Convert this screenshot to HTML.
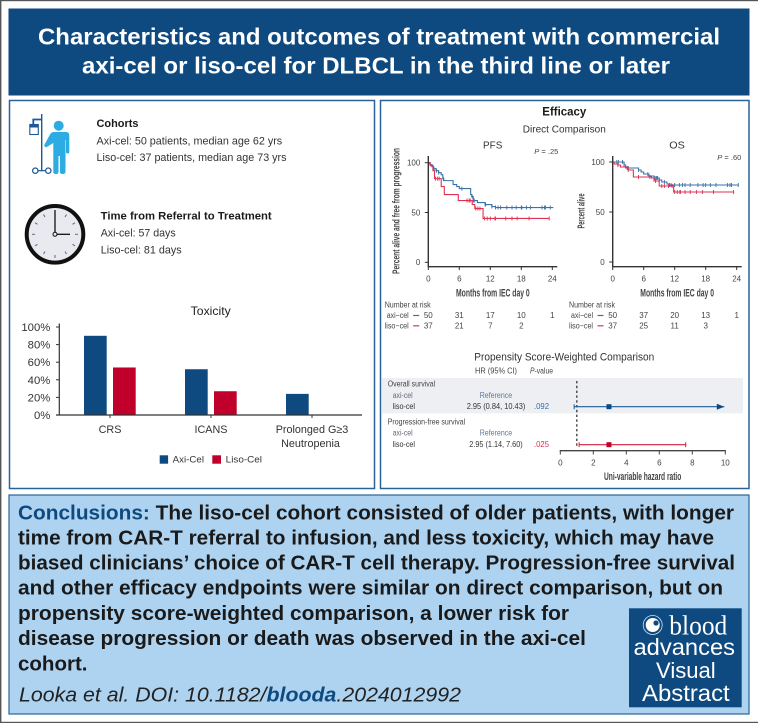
<!DOCTYPE html>
<html lang="en">
<head>
<meta charset="utf-8">
<title>Visual abstract: axi-cel or liso-cel for DLBCL</title>
<style>
html,body{margin:0;padding:0;background:#fff;}
svg{display:block;font-family:"Liberation Sans",sans-serif;filter:blur(0.3px);}
</style>
</head>
<body>
<svg id="root" width="758" height="723" viewBox="0 0 758 723" xmlns="http://www.w3.org/2000/svg">
  <rect x="0" y="0" width="758" height="723" fill="#fff"/>
  <rect x="0" y="0" width="758" height="1.2" fill="#555"/>
  <rect x="0" y="0" width="1.4" height="723" fill="#555"/>
  <rect x="0" y="721.8" width="758" height="1.2" fill="#555"/>

  <g>
    <rect x="8.5" y="8.5" width="741" height="87" fill="#0e4a80"/>
    <text x="38" y="44.3" font-size="23" font-weight="700" fill="#fff" textLength="682" lengthAdjust="spacingAndGlyphs">Characteristics and outcomes of treatment with commercial</text>
    <text x="82" y="73.7" font-size="23" font-weight="700" fill="#fff" textLength="588" lengthAdjust="spacingAndGlyphs">axi-cel or liso-cel for DLBCL in the third line or later</text>
  </g>

  <rect x="9.5" y="100.5" width="365" height="388" fill="#fff" stroke="#2a6399" stroke-width="1.5"/>
  <rect x="380.5" y="100.5" width="368.5" height="388" fill="#fff" stroke="#2a6399" stroke-width="1.5"/>

  <g>
    <line x1="41.7" y1="114" x2="41.7" y2="170.7" stroke="#1a5a96" stroke-width="1.4"/>
    <path d="M33.3 124 V119.500 H41.7" fill="none" stroke="#1a5a96" stroke-width="1.8"/>
    <rect x="29.800" y="124.500" width="8.500" height="10" fill="#fff" stroke="#1a5a96" stroke-width="1.1"/>
    <rect x="29.800" y="124.500" width="8.500" height="3" fill="#1a5a96"/>
    <circle cx="35.300" cy="170.700" r="2.700" fill="#fff" stroke="#1a5a96" stroke-width="1.200"/>
    <circle cx="48.300" cy="170.700" r="2.700" fill="#fff" stroke="#1a5a96" stroke-width="1.200"/>
    <line x1="38" y1="170.700" x2="45.600" y2="170.700" stroke="#1a5a96" stroke-width="1.200"/>
    <circle cx="58.700" cy="125.700" r="5" fill="#2dabe3"/>
    <path d="M44 145.500 L50 134.500 Q51.500 132 54 132 H66 Q69.300 132 69.300 135.500 V152 Q69.300 153.500 67.700 153.500 Q66 153.500 66 152 V140 H65.500 V172 Q65.500 174 62.500 174 Q60 174 60 172 V156 H58.500 V172 Q58.500 174 56 174 Q53.300 174 53.300 172 V143 L46 147.500 Z" fill="#2dabe3"/>
  </g>

  <text x="96.500" y="127" font-size="11" font-weight="700" fill="#1a1a1a" textLength="42" lengthAdjust="spacingAndGlyphs">Cohorts</text>
  <text x="96.500" y="144.300" font-size="11" fill="#333" textLength="185.700" lengthAdjust="spacingAndGlyphs">Axi-cel: 50 patients, median age 62 yrs</text>
  <text x="96.500" y="161" font-size="11" fill="#333" textLength="190" lengthAdjust="spacingAndGlyphs">Liso-cel: 37 patients, median age 73 yrs</text>

  <g>
    <circle cx="55" cy="234.300" r="28.300" fill="#e8eaf0" stroke="#111" stroke-width="4"/>
    <g stroke="#667" stroke-width="1">
      <line x1="55" y1="211" x2="55" y2="214"/><line x1="55" y1="255" x2="55" y2="258"/>
      <line x1="32" y1="234.300" x2="35" y2="234.300"/><line x1="75" y1="234.300" x2="78" y2="234.300"/>
      <line x1="66.500" y1="214.500" x2="65" y2="217"/><line x1="43.500" y1="214.500" x2="45" y2="217"/>
      <line x1="66.500" y1="254" x2="65" y2="251.500"/><line x1="43.500" y1="254" x2="45" y2="251.500"/>
      <line x1="35" y1="222.800" x2="37.500" y2="224.300"/><line x1="75" y1="222.800" x2="72.500" y2="224.300"/>
      <line x1="35" y1="245.800" x2="37.500" y2="244.300"/><line x1="75" y1="245.800" x2="72.500" y2="244.300"/>
    </g>
    <line x1="55" y1="232" x2="55" y2="210" stroke="#111" stroke-width="1.300"/>
    <line x1="57" y1="234.300" x2="70" y2="234.300" stroke="#111" stroke-width="1.300"/>
    <circle cx="55" cy="234.300" r="2" fill="#e8eaf0" stroke="#111" stroke-width="1"/>
  </g>

  <text x="100.700" y="219.700" font-size="11" font-weight="700" fill="#1a1a1a" textLength="171" lengthAdjust="spacingAndGlyphs">Time from Referral to Treatment</text>
  <text x="100.700" y="236.300" font-size="11" fill="#333" textLength="75" lengthAdjust="spacingAndGlyphs">Axi-cel: 57 days</text>
  <text x="100.700" y="253.300" font-size="11" fill="#333" textLength="81" lengthAdjust="spacingAndGlyphs">Liso-cel: 81 days</text>

  <g id="toxicity-chart">
    <text x="210.700" y="315" font-size="12" fill="#222" text-anchor="middle" textLength="40" lengthAdjust="spacingAndGlyphs">Toxicity</text>
    <rect x="159.700" y="455.300" width="8.400" height="8.400" fill="#0e4a80"/>
    <text x="172.700" y="462.700" font-size="9.500" fill="#333" textLength="31.300" lengthAdjust="spacingAndGlyphs">Axi-Cel</text>
    <rect x="212.300" y="455.300" width="8.700" height="8.400" fill="#c0002a"/>
    <text x="225.700" y="462.700" font-size="9.500" fill="#333" textLength="36.300" lengthAdjust="spacingAndGlyphs">Liso-Cel</text>
  </g>

  <text x="564.300" y="115.700" font-size="11.500" font-weight="700" fill="#1a1a1a" text-anchor="middle" textLength="44" lengthAdjust="spacingAndGlyphs">Efficacy</text>
  <text x="564.300" y="132.700" font-size="10.500" fill="#333" text-anchor="middle" textLength="83" lengthAdjust="spacingAndGlyphs">Direct Comparison</text>

  <g id="pfs-chart">
    <text x="492.700" y="148.700" font-size="10.500" fill="#333" text-anchor="middle" textLength="19.300" lengthAdjust="spacingAndGlyphs">PFS</text>
    <text x="534.300" y="154" font-size="7.500" fill="#444" textLength="24" lengthAdjust="spacingAndGlyphs"><tspan font-style="italic">P</tspan> = .25</text>
    <text transform="translate(399.500 211) rotate(-90)" font-size="10" font-weight="700" fill="#444" text-anchor="middle" textLength="126" lengthAdjust="spacingAndGlyphs">Percent alive and free from progression</text>
    <text x="456" y="296.300" font-size="11" font-weight="700" fill="#444" textLength="73.700" lengthAdjust="spacingAndGlyphs">Months from IEC day 0</text>
    <text x="384.700" y="307.700" font-size="8" fill="#444" textLength="46" lengthAdjust="spacingAndGlyphs">Number at risk</text>
  </g>

  <g id="os-chart">
    <text x="677" y="148.700" font-size="10.500" fill="#333" text-anchor="middle" textLength="15.500" lengthAdjust="spacingAndGlyphs">OS</text>
    <text x="717.300" y="160" font-size="7.500" fill="#444" textLength="24" lengthAdjust="spacingAndGlyphs"><tspan font-style="italic">P</tspan> = .60</text>
    <text transform="translate(584.500 211) rotate(-90)" font-size="10" font-weight="700" fill="#444" text-anchor="middle" textLength="35" lengthAdjust="spacingAndGlyphs">Percent alive</text>
    <text x="640.300" y="296.300" font-size="11" font-weight="700" fill="#444" textLength="73.700" lengthAdjust="spacingAndGlyphs">Months from IEC day 0</text>
    <text x="569" y="307.700" font-size="8" fill="#444" textLength="46" lengthAdjust="spacingAndGlyphs">Number at risk</text>
  </g>

  <g id="forest-chart">
    <text x="564.300" y="360.700" font-size="11" fill="#333" text-anchor="middle" textLength="180" lengthAdjust="spacingAndGlyphs">Propensity Score-Weighted Comparison</text>
    <text x="475" y="373.700" font-size="8" fill="#444" textLength="42" lengthAdjust="spacingAndGlyphs">HR (95% CI)</text>
    <text x="530" y="373.700" font-size="8" fill="#444" textLength="23" lengthAdjust="spacingAndGlyphs"><tspan font-style="italic">P</tspan>-value</text>
    <rect x="382" y="378" width="361" height="35.300" fill="#eeeff2"/>
    <text x="387.700" y="386.700" font-size="8" fill="#444" textLength="47.500" lengthAdjust="spacingAndGlyphs">Overall survival</text>
    <text x="392.700" y="398" font-size="8" fill="#667" textLength="20" lengthAdjust="spacingAndGlyphs">axi-cel</text>
    <text x="479.700" y="398" font-size="8" fill="#5a7a9a" textLength="32.500" lengthAdjust="spacingAndGlyphs">Reference</text>
    <text x="392.700" y="409" font-size="8" fill="#333" textLength="22.300" lengthAdjust="spacingAndGlyphs">liso-cel</text>
    <text x="466.700" y="409" font-size="8" fill="#333" textLength="58.600" lengthAdjust="spacingAndGlyphs">2.95 (0.84, 10.43)</text>
    <text x="534" y="409" font-size="8" fill="#2a6fb0" textLength="15" lengthAdjust="spacingAndGlyphs">.092</text>
    <text x="387.700" y="424.300" font-size="8" fill="#444" textLength="77.500" lengthAdjust="spacingAndGlyphs">Progression-free survival</text>
    <text x="392.700" y="435.700" font-size="8" fill="#667" textLength="20" lengthAdjust="spacingAndGlyphs">axi-cel</text>
    <text x="479.700" y="435.700" font-size="8" fill="#5a7a9a" textLength="32.500" lengthAdjust="spacingAndGlyphs">Reference</text>
    <text x="392.700" y="447" font-size="8" fill="#333" textLength="22.300" lengthAdjust="spacingAndGlyphs">liso-cel</text>
    <text x="469.300" y="447" font-size="8" fill="#333" textLength="53.400" lengthAdjust="spacingAndGlyphs">2.95 (1.14, 7.60)</text>
    <text x="534" y="447" font-size="8" fill="#d8304f" textLength="15" lengthAdjust="spacingAndGlyphs">.025</text>
    <text x="604" y="480" font-size="11" font-weight="700" fill="#444" textLength="77.300" lengthAdjust="spacingAndGlyphs">Uni-variable hazard ratio</text>
  </g>

  <g>
    <rect x="9" y="495" width="740" height="219" fill="#aed3f1" stroke="#2a6399" stroke-width="1.200"/>
    <g font-size="20.500" font-weight="700" fill="#1a1a1a">
      <text x="18" y="519.300" textLength="716" lengthAdjust="spacingAndGlyphs"><tspan fill="#0e4a80">Conclusions:</tspan> The liso-cel cohort consisted of older patients, with longer</text>
      <text x="18" y="544.700" textLength="696" lengthAdjust="spacingAndGlyphs">time from CAR-T referral to infusion, and less toxicity, which may have</text>
      <text x="18" y="569.300" textLength="717" lengthAdjust="spacingAndGlyphs">biased clinicians’ choice of CAR-T cell therapy. Progression-free survival</text>
      <text x="18" y="594.700" textLength="705" lengthAdjust="spacingAndGlyphs">and other efficacy endpoints were similar on direct comparison, but on</text>
      <text x="18" y="620" textLength="551" lengthAdjust="spacingAndGlyphs">propensity score-weighted comparison, a lower risk for</text>
      <text x="18" y="645" textLength="568" lengthAdjust="spacingAndGlyphs">disease progression or death was observed in the axi-cel</text>
      <text x="18" y="670.300" textLength="69.500" lengthAdjust="spacingAndGlyphs">cohort.</text>
    </g>
    <text x="19" y="701.700" font-size="20.500" font-style="italic" fill="#222" textLength="442" lengthAdjust="spacingAndGlyphs">Looka et al. DOI: 10.1182/<tspan font-weight="700" fill="#0e4a80">blooda</tspan>.2024012992</text>
  </g>

  <g>
    <rect x="629" y="608.300" width="112.700" height="99" fill="#0e4a80"/>
    <circle cx="652.700" cy="625" r="9.500" fill="none" stroke="#cfe0f0" stroke-width="0.800"/>
    <circle cx="652.700" cy="625" r="7" fill="#fff"/>
    <circle cx="656" cy="623" r="2.600" fill="#0e4a80"/>
    <text x="669.300" y="634.300" font-family="'Liberation Serif',serif" font-size="27" fill="#fff" textLength="58" lengthAdjust="spacingAndGlyphs">blood</text>
    <text x="633.500" y="655" font-size="23.500" fill="#fff" textLength="101.500" lengthAdjust="spacingAndGlyphs">advances</text>
    <text x="656" y="678" font-size="22.500" fill="#fff" textLength="59.700" lengthAdjust="spacingAndGlyphs">Visual</text>
    <text x="642" y="701" font-size="23.500" fill="#fff" textLength="87.700" lengthAdjust="spacingAndGlyphs">Abstract</text>
  </g>
</svg>

<script>
/* Toxicity bar chart data */
const toxicityCategories = ["CRS", "ICANS", "Prolonged G≥3"];
const toxicitySecondLine = ["", "", "Neutropenia"];
const toxicityAxi = [90, 52, 24];
const toxicityLiso = [54, 27, 0];
const toxicityTicks = [0, 20, 40, 60, 80, 100];

/* Kaplan-Meier data */
const kmMonthTicks = [0, 6, 12, 18, 24];
const kmPercentTicks = [0, 50, 100];

const pfsAxiMonths = [0, 0.3, 0.7, 1, 1.5, 2, 2.5, 2.8, 3, 4.8, 5.5, 6, 8.2, 8.4, 8.7, 9.5, 11, 12.3, 13, 24.2];
const pfsAxiSurvival = [100, 98, 96, 94, 92, 90, 88, 84, 82, 78, 76, 74, 68, 66, 62, 60, 58, 56, 55, 55];
const pfsAxiCensored = [0.9, 1.1, 1.6, 2, 2.9, 6.5, 8.5, 8.7, 8.9, 11, 11.1, 12.3, 13, 13.5, 14, 15.2, 16.2, 17, 18, 18.1, 19, 19.8, 22, 22.5, 22.7, 23.6];

const pfsLisoMonths = [0, 0.4, 0.9, 1.2, 2.5, 3.1, 5.8, 8.5, 9, 10.6, 23.4];
const pfsLisoSurvival = [100, 97, 92, 84, 76, 68, 62, 58, 54, 44, 44];
const pfsLisoCensored = [1.4, 1.8, 2.1, 7.5, 7.9, 8.1, 9.2, 9.6, 10, 10.9, 11.4, 12, 12.9, 13, 15, 16.2, 17.2, 19.5, 23.4];

const osAxiMonths = [0, 1.9, 2.2, 2.5, 3, 5, 5.5, 6, 7, 8, 9, 9.5, 10.5, 11, 24.4];
const osAxiSurvival = [100, 100, 97, 95, 94, 92, 90, 88, 86, 84, 82, 80, 78, 77, 77];
const osAxiCensored = [0.8, 1.1, 1.9, 2.2, 3, 5, 6.8, 8.2, 8.5, 8.7, 9, 10, 11, 11.3, 12, 12.9, 13.5, 14, 15, 16.5, 17.5, 18, 18.9, 20, 22.2, 22.7, 23, 24.3];

const osLisoMonths = [0, 0.3, 1, 1.5, 2.5, 3, 4, 6.5, 7.5, 8, 9, 11.8, 23.5];
const osLisoSurvival = [100, 98, 97, 95, 94, 92, 85, 85, 84, 81, 76, 70, 70];
const osLisoCensored = [1, 2.8, 3, 5, 7.2, 8.3, 9.5, 10, 10.8, 11.5, 12, 12.5, 13, 13.1, 14, 15, 16.2, 17.4, 19.5, 23.4];

/* Number-at-risk data */
const pfsRiskAxi = [50, 31, 17, 10, 1];
const pfsRiskLiso = [37, 21, 7, 2];
const osRiskAxi = [50, 37, 20, 13, 1];
const osRiskLiso = [37, 25, 11, 3];

/* Forest plot data */
const forestTicks = [0, 2, 4, 6, 8, 10];
const forestHr = [2.95, 2.95];
const forestLow = [0.84, 1.14];
const forestHigh = [10.43, 7.6];
const forestReference = 1;

const NS = "http://www.w3.org/2000/svg";
const BLUE = "#3a72a8", RED = "#dc3355", AXIS = "#333";

function make(parent, tag, attrs, txt) {
  const el = document.createElementNS(NS, tag);
  for (const k in attrs) el.setAttribute(k, attrs[k]);
  if (txt !== undefined) el.textContent = txt;
  parent.appendChild(el);
  return el;
}

/* ---------- Toxicity bars ---------- */
(function () {
  const g = document.getElementById("toxicity-chart");
  const yScale = v => 415 - v * 0.88;
  const xScale = i => 110 + i * 101;
  const barWidth = 22.7;

  const yAxis = make(g, "line", { x1: 59.3, x2: 59.3, y1: 323.5, y2: 415, stroke: AXIS, "stroke-width": 1.2 });
  
  

  toxicityTicks.forEach(t => {
    const tick = make(g, "line", { x1: 56, x2: 59.3, y1: yScale(t), y2: yScale(t), stroke: AXIS, "stroke-width": 1 });
    
    
    const label = make(g, "text", { x: 50.3, y: yScale(t) + 4, "font-size": 11.3, "text-anchor": "end", fill: "#333" }, t + "%");
    
    
  });

  toxicityCategories.forEach((c, i) => {
    const cx = xScale(i);
    if (toxicityAxi[i] > 0) {
      const bar = make(g, "rect", { x: cx - 26, y: yScale(toxicityAxi[i]), width: barWidth, height: yScale(0) - yScale(toxicityAxi[i]), fill: "#0e4a80" });
      
      
    }
    if (toxicityLiso[i] > 0) {
      const bar = make(g, "rect", { x: cx + 3, y: yScale(toxicityLiso[i]), width: barWidth, height: yScale(0) - yScale(toxicityLiso[i]), fill: "#c0002a" });
      
      
    }
    const tick = make(g, "line", { x1: cx, x2: cx, y1: 415, y2: 418, stroke: AXIS, "stroke-width": 1 });
    
    
    const label = make(g, "text", { x: cx, y: 433, "font-size": 10.8, "text-anchor": "middle", fill: "#333" }, c);
    
    
    if (toxicitySecondLine[i]) {
      const second = make(g, "text", { x: cx - 1.5, y: 447, "font-size": 10.8, "text-anchor": "middle", fill: "#333" }, toxicitySecondLine[i]);
      
      
    }
  });

  const xAxis = make(g, "line", { x1: 56, x2: 362, y1: 415, y2: 415, stroke: AXIS, "stroke-width": 1.2 });
  
  
})();

/* ---------- Kaplan-Meier plots ---------- */
function stepValue(months, values, m) {
  let v = values[0];
  for (let i = 0; i < months.length; i++) if (months[i] <= m) v = values[i];
  return v;
}

function drawKm(groupId, x0, yTop, yZero, axi, liso, riskAxi, riskLiso, dashX) {
  const g = document.getElementById(groupId);
  const xScale = m => x0 + m * (124 / 24);
  const yScale = p => yZero - p * ((yZero - yTop) / 100);

  [[axi, BLUE], [liso, RED]].forEach(pair => {
    const s = pair[0], color = pair[1];
    let d = "M" + xScale(s.months[0]) + " " + yScale(s.values[0]);
    for (let i = 1; i < s.months.length; i++) {
      d += " H" + xScale(s.months[i]) + " V" + yScale(s.values[i]);
    }
    const curve = make(g, "path", { d: d, fill: "none", stroke: color, "stroke-width": 1.1 });
    
    
    s.censored.forEach(m => {
      const y = yScale(stepValue(s.months, s.values, m));
      const mark = make(g, "line", { x1: xScale(m), x2: xScale(m), y1: y - 2, y2: y + 2, stroke: color, "stroke-width": 0.9 });
      
      
    });
  });

  const yAxis = make(g, "line", { x1: x0, x2: x0, y1: 156, y2: 266.7, stroke: AXIS, "stroke-width": 1.4 });
  
  
  const xAxis = make(g, "line", { x1: x0 - 0.6, x2: x0 + 129, y1: 266.7, y2: 266.7, stroke: AXIS, "stroke-width": 1.4 });
  
  

  kmPercentTicks.forEach(p => {
    const tick = make(g, "line", { x1: x0 - 3.5, x2: x0, y1: yScale(p), y2: yScale(p), stroke: AXIS, "stroke-width": 1 });
    
    
    const label = make(g, "text", { x: x0 - 8, y: yScale(p) + 2.8, "font-size": 8, "text-anchor": "end", fill: "#444" }, p);
    
    
  });

  kmMonthTicks.forEach((m, i) => {
    const tick = make(g, "line", { x1: xScale(m), x2: xScale(m), y1: 266.7, y2: 270, stroke: AXIS, "stroke-width": 1 });
    
    
    const label = make(g, "text", { x: xScale(m), y: 281.3, "font-size": 8, "text-anchor": "middle", fill: "#444" }, m);
    
    
    if (riskAxi[i] !== undefined) {
      const n = make(g, "text", { x: xScale(m), y: 318, "font-size": 8, "text-anchor": "middle", fill: "#444" }, riskAxi[i]);
      
      
    }
    if (riskLiso[i] !== undefined) {
      const n = make(g, "text", { x: xScale(m), y: 328.3, "font-size": 8, "text-anchor": "middle", fill: "#444" }, riskLiso[i]);
      
      
    }
  });

  const a = make(g, "text", { x: dashX + 2, y: 318, "font-size": 8, fill: "#444", textLength: 22, lengthAdjust: "spacingAndGlyphs" }, "axi−cel");
  
  
  const l = make(g, "text", { x: dashX, y: 328.3, "font-size": 8, fill: "#444", textLength: 24, lengthAdjust: "spacingAndGlyphs" }, "liso−cel");
  
  
  const da = make(g, "line", { x1: dashX + 28.5, x2: dashX + 34.5, y1: 315.5, y2: 315.5, stroke: BLUE, "stroke-width": 1.2 });
  
  
  const dl = make(g, "line", { x1: dashX + 28.5, x2: dashX + 34.5, y1: 325.8, y2: 325.8, stroke: RED, "stroke-width": 1.2 });
  
  
}

drawKm("pfs-chart", 428.3, 162.7, 262.3,
  { months: pfsAxiMonths, values: pfsAxiSurvival, censored: pfsAxiCensored },
  { months: pfsLisoMonths, values: pfsLisoSurvival, censored: pfsLisoCensored },
  pfsRiskAxi, pfsRiskLiso, 384.7);

drawKm("os-chart", 612.7, 162, 262,
  { months: osAxiMonths, values: osAxiSurvival, censored: osAxiCensored },
  { months: osLisoMonths, values: osLisoSurvival, censored: osLisoCensored },
  osRiskAxi, osRiskLiso, 569);

/* ---------- Forest plot ---------- */
(function () {
  const g = document.getElementById("forest-chart");
  const xScale = v => 560.3 + v * 16.5;
  const axisMax = forestTicks[forestTicks.length - 1];
  const colors = ["#1f5c96", "#d4213f"];
  const markerColors = ["#0e4a80", "#c0002a"];

  const ref = make(g, "line", { x1: xScale(forestReference), x2: xScale(forestReference), y1: 381, y2: 448, stroke: "#444", "stroke-width": 1.4, "stroke-dasharray": "2.4 2.4" });
  
  

  forestHr.forEach((hr, i) => {
    const y = 406.7 + i * 38;
    const clipped = forestHigh[i] > axisMax;
    const right = clipped ? xScale(axisMax) - 1 : xScale(forestHigh[i]);
    const ci = make(g, "line", { x1: xScale(forestLow[i]), x2: right, y1: y, y2: y, stroke: colors[i], "stroke-width": 1.1 });
    
    
    const capLow = make(g, "line", { x1: xScale(forestLow[i]), x2: xScale(forestLow[i]), y1: y - 2.5, y2: y + 2.5, stroke: colors[i], "stroke-width": 1 });
    
    
    if (clipped) {
      const arrow = make(g, "polygon", { points: (right - 7.5) + "," + (y - 3) + " " + right + "," + y + " " + (right - 7.5) + "," + (y + 3), fill: markerColors[i] });
      
      
    } else {
      const capHigh = make(g, "line", { x1: right, x2: right, y1: y - 2.5, y2: y + 2.5, stroke: colors[i], "stroke-width": 1 });
      
      
    }
    const marker = make(g, "rect", { x: xScale(hr) - 2.5, y: y - 2.5, width: 5, height: 5, fill: markerColors[i] });
    
    
  });

  const axis = make(g, "line", { x1: xScale(0) - 0.6, x2: xScale(axisMax) + 0.6, y1: 450.7, y2: 450.7, stroke: "#444", "stroke-width": 1.3 });
  
  
  forestTicks.forEach(t => {
    const tick = make(g, "line", { x1: xScale(t), x2: xScale(t), y1: 450.7, y2: 454.5, stroke: "#444", "stroke-width": 1 });
    
    
    const label = make(g, "text", { x: xScale(t), y: 465.3, "font-size": 8, "text-anchor": "middle", fill: "#444" }, t);
    
    
  });
})();
</script>
</body>
</html>
